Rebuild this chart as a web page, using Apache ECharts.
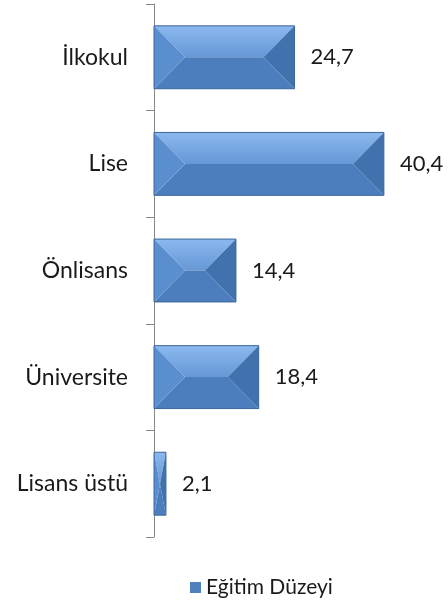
<!DOCTYPE html>
<html>
<head>
<meta charset="utf-8">
<script src="https://cdn.jsdelivr.net/npm/echarts@6/dist/echarts.min.js"></script>
<style>
html,body{margin:0;padding:0;background:#fff;}
#c{width:448px;height:610px;}
</style>
</head>
<body>
<div id="c"></div>
<script>
var categories = ['İlkokul', 'Lise', 'Önlisans', 'Üniversite', 'Lisans üstü'];
var values = [24.7, 40.4, 14.4, 18.4, 2.1];
var seriesName = 'Eğitim Düzeyi';

var chart = echarts.init(document.getElementById('c'));
var FONT = 'Lato';

function renderBevel(params, api) {
  var ci = api.value(0);
  var v = api.value(1);
  var p0 = api.coord([0, ci]);
  var p1 = api.coord([v, ci]);
  var band = api.size([0, 1])[1];
  var h = band * 0.59;
  var x0 = p0[0], x1 = p1[0];
  var yt = p0[1] - h / 2, yb = p0[1] + h / 2, ym = p0[1];
  var w = x1 - x0;
  var b = Math.min(31, w / 2, h / 2);
  var xl = x0 + b, xr = x1 - b;
  var label = v.toFixed(1).replace('.', ',');
  return {
    type: 'group',
    children: [
      {type: 'polygon', shape: {points: [[x0, yt], [x1, yt], [xr, ym], [xl, ym]]},
        style: {fill: new echarts.graphic.LinearGradient(0, 0, 0, 1, [
          {offset: 0, color: '#8bb8ee'}, {offset: 1, color: '#6698d6'}])}},
      {type: 'polygon', shape: {points: [[x0, yb], [x1, yb], [xr, ym], [xl, ym]]},
        style: {fill: '#4c7ebd'}},
      {type: 'polygon', shape: {points: [[x0, yt], [xl, ym], [x0, yb]]},
        style: {fill: '#5b8ecf'}},
      {type: 'polygon', shape: {points: [[x1, yt], [xr, ym], [x1, yb]]},
        style: {fill: '#4272ad'}},
      {type: 'rect', shape: {x: x0, y: yt, width: w, height: h},
        style: {fill: 'none', stroke: '#3a669c', lineWidth: 1}},
      {type: 'text', x: x1 + 16, y: ym,
        style: {text: label, fill: '#1a1a1a', font: '22px ' + FONT, verticalAlign: 'middle', align: 'left'}}
    ]
  };
}

var data = values.map(function (v, i) { return [i, v]; });

chart.setOption({
  animation: false,
  backgroundColor: '#fff',
  grid: {left: 154, right: 9.5, top: 4, bottom: 73},
  xAxis: {type: 'value', min: 0, max: 50, show: false},
  yAxis: {
    type: 'category', data: categories, inverse: true,
    axisLine: {show: true, lineStyle: {color: '#868686', width: 1}},
    axisTick: {show: true, length: 8, lineStyle: {color: '#868686'}},
    axisLabel: {margin: 26, color: '#1a1a1a', fontSize: 23, fontFamily: FONT}
  },
  legend: {
    data: [seriesName], left: 185, top: 572, icon: 'rect',
    itemWidth: 11, itemHeight: 11, itemGap: 10,
    textStyle: {color: '#1a1a1a', fontSize: 21, fontFamily: FONT}
  },
  series: [{
    name: seriesName, type: 'custom', renderItem: renderBevel,
    encode: {x: 1, y: 0}, data: data,
    itemStyle: {color: '#4f81bd'}
  }]
});
</script>
</body>
</html>
